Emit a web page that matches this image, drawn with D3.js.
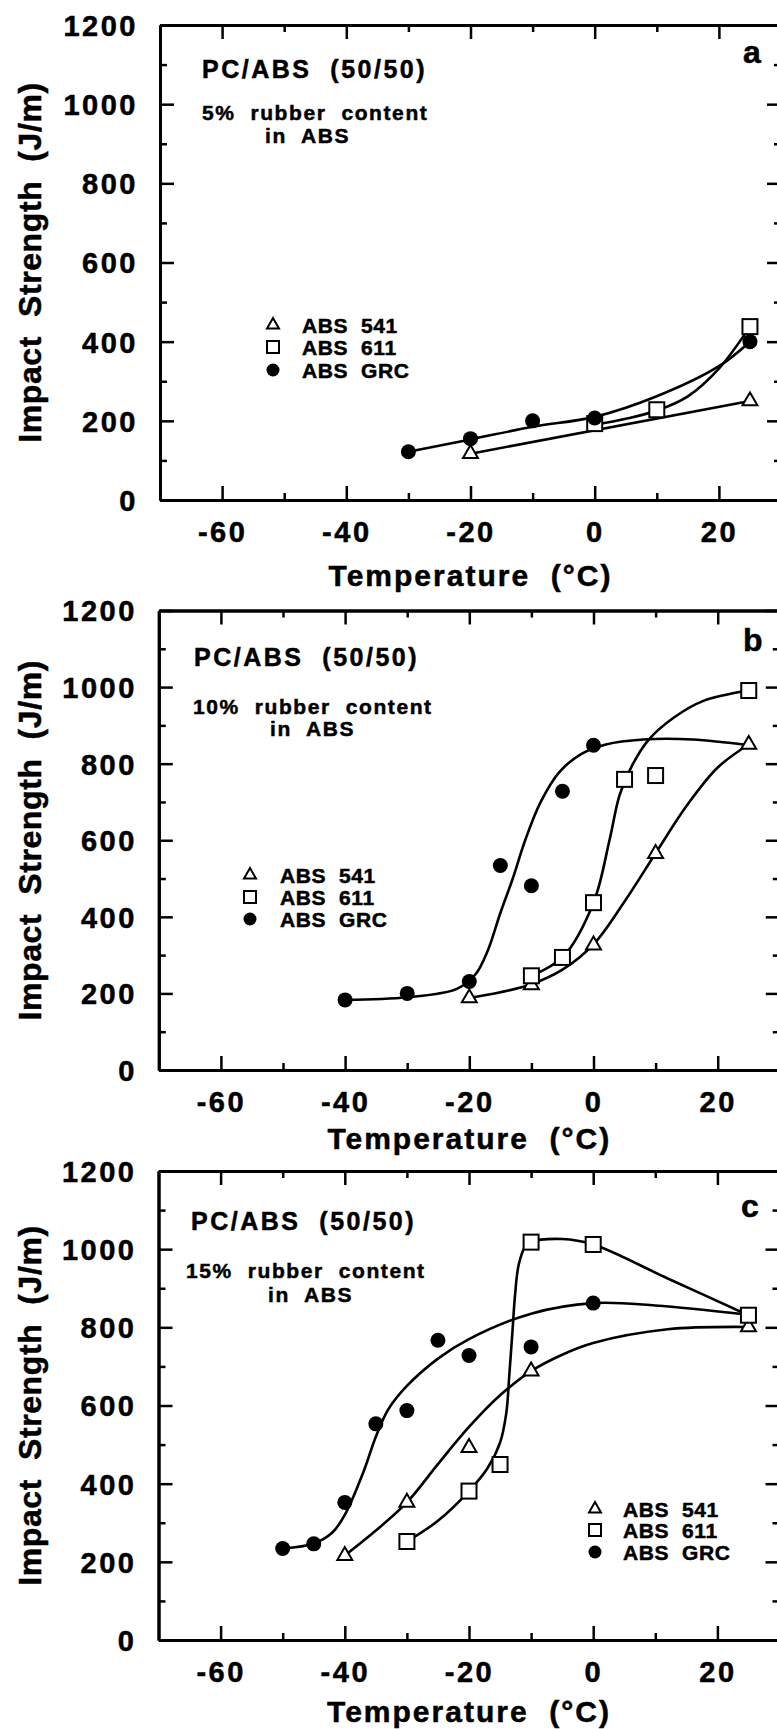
<!DOCTYPE html>
<html>
<head>
<meta charset="utf-8">
<script src="https://cdn.jsdelivr.net/npm/d3@7/dist/d3.min.js"></script>
<style>
  body { margin: 0; background: #fff; }
  svg { display: block; }
  text { font-family: "Liberation Sans", Arial, sans-serif; font-weight: bold; fill: #000; stroke: #000; stroke-width: 0.5; white-space: pre; }
  .frame .domain { stroke: #000; stroke-width: 3; }
  .frame .tick line { stroke: #000; stroke-width: 2.5; }
  .fit { fill: none; stroke: #000; stroke-width: 2.6; }
</style>
</head>
<body>
<div id="chart"></div>
<script>
  // axis ticks
  const xMajor = [-60, -40, -20, 0, 20];
  const xMinor = [-50, -30, -10, 10];
  const yMajor = [0, 200, 400, 600, 800, 1000, 1200];
  const yMinor = [100, 300, 500, 700, 900, 1100];
  const seriesNames = ['ABS  541', 'ABS  611', 'ABS  GRC'];

  // panel a : 5% rubber content
  const a541 = [[-20, 117], [25, 250]];
  const a611 = [[0, 193], [10, 228], [25, 438]];
  const aGRC = [[-30, 122], [-20, 155], [-10, 200], [0, 207], [25, 400]];
  const a541Fit = [[-20, 117], [25, 250]];
  const a611Fit = [[0, 190], [5, 205], [10, 226], [15, 262], [20, 332], [25, 438]];
  const aGRCFit = [[-30, 122], [-20, 153], [-10, 185], [0, 210], [10, 262], [20, 338], [25, 400]];

  // panel b : 10% rubber content
  const b541 = [[-20, 188], [-10, 222], [0, 326], [10, 565], [25, 850]];
  const b611 = [[-10, 246], [-5, 294], [0, 437], [5, 759], [10, 769], [25, 991]];
  const bGRC = [[-40, 183], [-30, 200], [-20, 231], [-15, 534], [-10, 481], [-5, 728], [0, 848]];
  const b541Fit = [[-20, 188], [-15, 203], [-10, 224], [-5, 262], [0, 328], [5, 440], [10, 566], [15, 690], [20, 790], [25, 850]];
  const b611Fit = [[-10, 246], [-5, 294], [0, 437], [2.6, 602], [4.2, 718], [6.2, 795], [8.9, 863], [12.9, 920], [17.7, 964], [25, 991]];
  const bGRCFit = [[-40, 183], [-30, 190], [-22, 212], [-19, 250], [-17, 313], [-15, 410], [-13, 500], [-11, 600], [-8.5, 700], [-5.5, 778], [-2, 825], [2, 850], [8, 863], [16, 863], [25, 848]];

  // panel c : 15% rubber content
  const c541 = [[-40, 216], [-30, 352], [-20, 492], [-10, 688], [25, 801]];
  const c611 = [[-30, 252], [-20, 381], [-15, 449], [-10, 1018], [0, 1012], [25, 831]];
  const cGRC = [[-50, 234], [-45, 246], [-40, 352], [-35, 553], [-30, 587], [-25, 767], [-20, 728], [-10, 750], [0, 862]];
  const c541Fit = [[-40, 216], [-35, 280], [-30, 352], [-25, 450], [-20, 545], [-15, 626], [-10, 688], [-5, 730], [0, 760], [12, 795], [25, 801]];
  const c611Fit = [[-30, 252], [-25, 305], [-20, 381], [-17, 440], [-15, 505], [-14, 580], [-13.5, 680], [-13, 790], [-12.6, 880], [-12, 960], [-11, 1005], [-10, 1018], [-5, 1026], [0, 1012], [12, 925], [25, 831]];
  const cGRCFit = [[-50, 234], [-45, 247], [-42, 275], [-40, 320], [-37, 430], [-35, 520], [-33, 590], [-30, 650], [-25, 720], [-20, 770], [-10, 835], [0, 862], [10, 856], [25, 832]];

  const panels = [
    {
      letter: 'a', rubber: '5%  rubber  content', top: 25, bottom: 500, left: 160,
      data: [a541, a611, aGRC], fits: [a541Fit, a611Fit, aGRCFit], straight: true,
      title: [202, 78], sub1: [202, 120], sub2: [265, 143], tag: [743, 63],
      legend: { x: 273, tx: 302, rows: [325, 347, 370] }, xlab: 586,
    },
    {
      letter: 'b', rubber: '10%  rubber  content', top: 610.5, bottom: 1070, left: 158.8,
      data: [b541, b611, bGRC], fits: [b541Fit, b611Fit, bGRCFit], straight: false,
      title: [194, 666], sub1: [193, 714], sub2: [270, 736], tag: [743, 651],
      legend: { x: 250, tx: 280, rows: [875, 897, 919] }, xlab: 1149,
    },
    {
      letter: 'c', rubber: '15%  rubber  content', top: 1171, bottom: 1640, left: 158.5,
      data: [c541, c611, cGRC], fits: [c541Fit, c611Fit, cGRCFit], straight: false,
      title: [191, 1230], sub1: [186, 1278], sub2: [268, 1302], tag: [741, 1217],
      legend: { x: 595, tx: 623, rows: [1509, 1530, 1552] }, xlab: 1722,
    },
  ];

  const svg = d3.select('#chart').append('svg')
    .attr('width', 777)
    .attr('height', 1729);

  const triangle = d3.symbol().type(d3.symbolTriangle);

  // Draw one marker of the given series (0: triangle, 1: square, 2: dot)
  function marker(sel, kind, size) {
    if (kind === 0) {
      sel.append('path')
        .attr('d', triangle.size(size * size * 0.43)())
        .attr('fill', '#fff').attr('stroke', '#000').attr('stroke-width', 2);
    } else if (kind === 1) {
      sel.append('rect')
        .attr('x', -size / 2).attr('y', -size / 2)
        .attr('width', size).attr('height', size)
        .attr('fill', '#fff').attr('stroke', '#000').attr('stroke-width', 2);
    } else {
      sel.append('circle').attr('r', size / 2).attr('fill', '#000');
    }
  }

  function txt(x, y, s, size, spacing) {
    return svg.append('text')
      .attr('x', x).attr('y', y)
      .attr('font-size', size)
      .attr('letter-spacing', spacing)
      .text(s);
  }

  function drawPanel(p) {
    const x = d3.scaleLinear().domain([-70, 30]).range([p.left, p.left + 621]);
    const y = d3.scaleLinear().domain([0, 1200]).range([p.bottom, p.top]);

    const frame = svg.append('g').attr('class', 'frame');
    const fmt = (d) => String(d);

    // bottom axis with labels
    const bottom = frame.append('g').attr('transform', `translate(0,${p.bottom})`)
      .call(d3.axisBottom(x).tickValues(xMajor).tickSizeInner(-14).tickSizeOuter(0).tickPadding(21).tickFormat(fmt));
    frame.append('g').attr('transform', `translate(0,${p.bottom})`)
      .call(d3.axisBottom(x).tickValues(xMinor).tickSizeInner(-7).tickSizeOuter(0).tickFormat(''));
    // top axis
    frame.append('g').attr('transform', `translate(0,${p.top})`)
      .call(d3.axisTop(x).tickValues(xMajor).tickSizeInner(-14).tickSizeOuter(0).tickFormat(''));
    frame.append('g').attr('transform', `translate(0,${p.top})`)
      .call(d3.axisTop(x).tickValues(xMinor).tickSizeInner(-7).tickSizeOuter(0).tickFormat(''));
    // left axis with labels
    const left = frame.append('g').attr('transform', `translate(${p.left},0)`)
      .call(d3.axisLeft(y).tickValues(yMajor).tickSizeInner(-14).tickSizeOuter(0).tickPadding(22).tickFormat(fmt));
    frame.append('g').attr('transform', `translate(${p.left},0)`)
      .call(d3.axisLeft(y).tickValues(yMinor).tickSizeInner(-7).tickSizeOuter(0).tickFormat(''));
    // right axis (falls just outside the picture)
    frame.append('g').attr('transform', `translate(${x.range()[1]},0)`)
      .call(d3.axisRight(y).tickValues(yMajor).tickSizeInner(-14).tickSizeOuter(0).tickFormat(''));
    frame.append('g').attr('transform', `translate(${x.range()[1]},0)`)
      .call(d3.axisRight(y).tickValues(yMinor).tickSizeInner(-7).tickSizeOuter(0).tickFormat(''));

    frame.selectAll('g').attr('font-family', null).attr('font-size', null);
    bottom.selectAll('text').attr('font-size', 29).attr('letter-spacing', 2.5).attr('dy', '0.71em');
    left.selectAll('text').attr('font-size', 29).attr('letter-spacing', 2.5).attr('dy', '0.36em');

    // fitted curves
    const line = d3.line()
      .x((d) => x(d[0]))
      .y((d) => y(d[1]));
    p.fits.forEach((f, i) => {
      const curve = (p.straight && i === 0) ? d3.curveLinear : d3.curveCatmullRom.alpha(0.5);
      svg.append('path')
        .attr('class', 'fit')
        .attr('d', line.curve(curve)(f));
    });

    // data markers
    p.data.forEach((series, k) => {
      svg.append('g').selectAll('g')
        .data(series)
        .join('g')
        .attr('transform', (d) => `translate(${x(d[0])},${y(d[1])})`)
        .each(function addMarker() { marker(d3.select(this), k, 15); });
    });

    // texts
    txt(p.title[0], p.title[1], 'PC/ABS  (50/50)', 25, 2.5);
    txt(p.sub1[0], p.sub1[1], p.rubber, 21, 1.6);
    txt(p.sub2[0], p.sub2[1], 'in  ABS', 21, 1.6);
    txt(p.tag[0], p.tag[1], p.letter, 32, 0);

    // legend
    seriesNames.forEach((name, k) => {
      const g = svg.append('g').attr('transform', `translate(${p.legend.x},${p.legend.rows[k]})`);
      marker(g, k, k === 2 ? 13 : 12);
      txt(p.legend.tx, p.legend.rows[k] + 7.5, name, 21, 0.6);
    });

    // axis titles
    svg.append('text')
      .attr('transform', `translate(41,${(p.top + p.bottom) / 2}) rotate(-90)`)
      .attr('text-anchor', 'middle')
      .attr('font-size', 32)
      .attr('letter-spacing', 0.6)
      .text('Impact  Strength  (J/m)');
    svg.append('text')
      .attr('x', (x(-70) + x(30)) / 2)
      .attr('y', p.xlab)
      .attr('text-anchor', 'middle')
      .attr('font-size', 30)
      .attr('letter-spacing', 2)
      .text('Temperature  (°C)');
  }

  panels.forEach(drawPanel);
</script>
</body>
</html>
